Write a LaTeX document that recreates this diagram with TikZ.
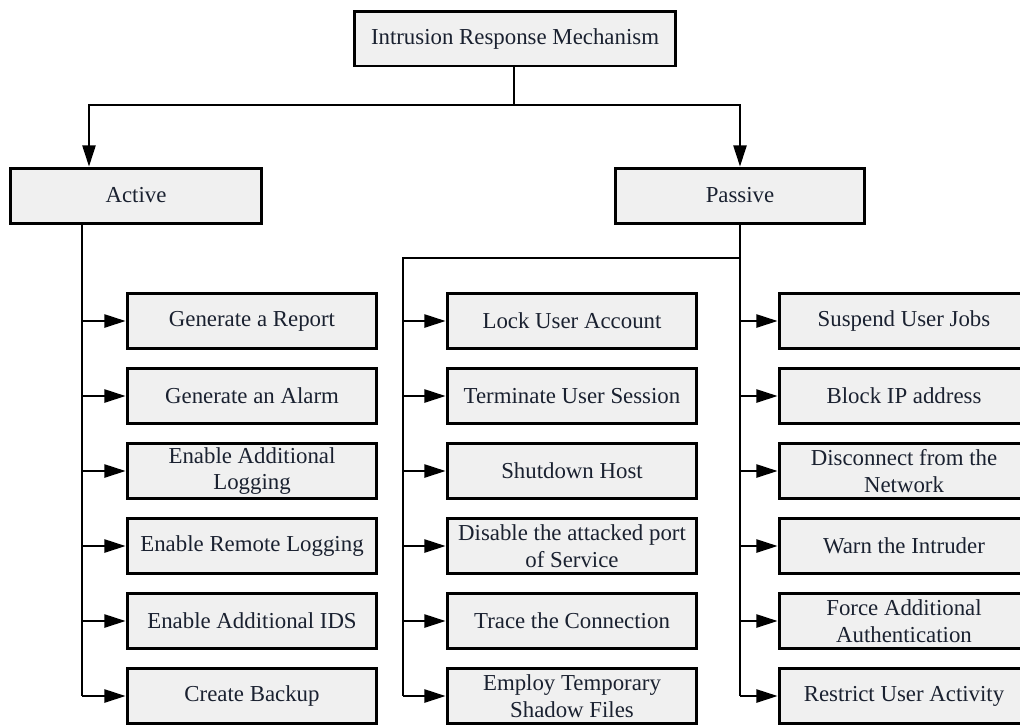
\documentclass[tikz,border=0pt]{standalone}
\usepackage{fontspec}
\setmainfont{Liberation Serif}
\usetikzlibrary{arrows.meta}
\definecolor{boxgray}{HTML}{F0F0F0}
\definecolor{inkblue}{HTML}{1A2130}

\begin{document}
\begin{tikzpicture}[x=0.02cm, y=-0.02cm, line width=1pt, >={Triangle[length=12pt,width=7.5pt]},
        box node/.style={rectangle, draw, line width=1.7pt, fill=boxgray, text=inkblue,
            font=\fontsize{13}{15}\selectfont, align=center,
            minimum width=5cm, minimum height=1.1cm, inner sep=1pt}]

    \clip (0,0) rectangle (1020,725);

    % Korzen i galezie
    \node[box node, minimum width=6.44cm] (irm) at (515,38.5) {Intrusion Response Mechanism};
    \node[box node, minimum width=5.04cm] (active) at (136,195.5) {Active};
    \node[box node] (passive) at (740,195.5) {Passive};

    % Active
    \node[box node] (a1) at (252,321) {Generate a Report};
    \node[box node] (a2) at (252,396) {Generate an Alarm};
    \node[box node] (a3) at (252,471) {Enable Additional\\Logging};
    \node[box node] (a4) at (252,546) {Enable Remote Logging};
    \node[box node] (a5) at (252,621) {Enable Additional IDS};
    \node[box node] (a6) at (252,696) {Create Backup};

    % Passive, lewa kolumna
    \node[box node] (m1) at (572,321) {Lock User Account};
    \node[box node] (m2) at (572,396) {Terminate User Session};
    \node[box node] (m3) at (572,471) {Shutdown Host};
    \node[box node] (m4) at (572,546) {Disable the attacked port\\of Service};
    \node[box node] (m5) at (572,621) {Trace the Connection};
    \node[box node] (m6) at (572,696) {Employ Temporary\\Shadow Files};

    % Passive, prawa kolumna
    \node[box node] (r1) at (904,321) {Suspend User Jobs};
    \node[box node] (r2) at (904,396) {Block IP address};
    \node[box node] (r3) at (904,471) {Disconnect from the\\Network};
    \node[box node] (r4) at (904,546) {Warn the Intruder};
    \node[box node] (r5) at (904,621) {Force Additional\\Authentication};
    \node[box node] (r6) at (904,696) {Restrict User Activity};

    % Szyny
    \coordinate (split) at (514,105);
    \coordinate (actin) at (89,105);
    \coordinate (abus) at (82,223);
    \coordinate (mbus) at (403,258);
    \coordinate (pfork) at (740,258);

    % Krawedzie
    \draw (irm.south -| split) -- (split);
    \draw[->] (split) -- (actin) -- (actin |- active.north);
    \draw[->] (split) -| (passive.north);

    \draw (abus) -- (abus |- a6.west);
    \path[->] (abus |- a1.west) edge (a1.west);
    \path[->] (abus |- a2.west) edge (a2.west);
    \path[->] (abus |- a3.west) edge (a3.west);
    \path[->] (abus |- a4.west) edge (a4.west);
    \path[->] (abus |- a5.west) edge (a5.west);
    \path[->] (abus |- a6.west) edge (a6.west);

    \draw (passive.south) -- (passive.south |- r6.west);
    \draw (pfork) -- (mbus) -- (mbus |- m6.west);
    \path[->] (mbus |- m1.west) edge (m1.west);
    \path[->] (mbus |- m2.west) edge (m2.west);
    \path[->] (mbus |- m3.west) edge (m3.west);
    \path[->] (mbus |- m4.west) edge (m4.west);
    \path[->] (mbus |- m5.west) edge (m5.west);
    \path[->] (mbus |- m6.west) edge (m6.west);

    \path[->] (pfork |- r1.west) edge (r1.west);
    \path[->] (pfork |- r2.west) edge (r2.west);
    \path[->] (pfork |- r3.west) edge (r3.west);
    \path[->] (pfork |- r4.west) edge (r4.west);
    \path[->] (pfork |- r5.west) edge (r5.west);
    \path[->] (pfork |- r6.west) edge (r6.west);
\end{tikzpicture}
\end{document}
